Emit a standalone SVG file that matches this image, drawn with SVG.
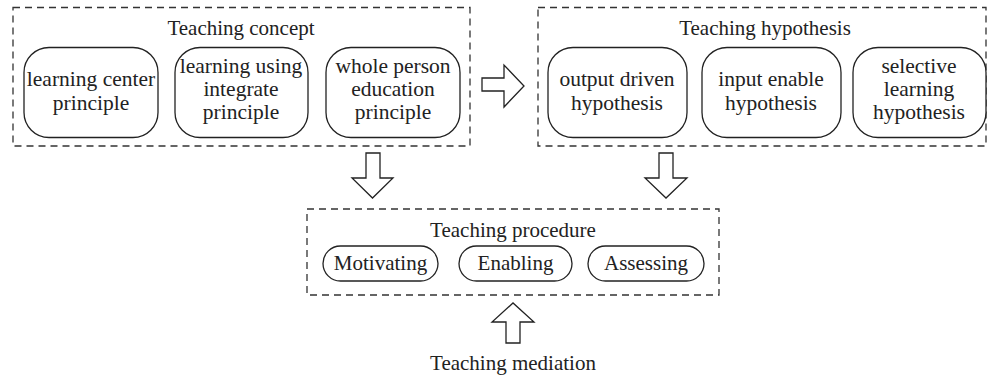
<svg xmlns="http://www.w3.org/2000/svg" width="987" height="379" viewBox="0 0 987 379">
<style>
.grp{fill:none;stroke:#333;stroke-width:1.3;stroke-dasharray:7,5}
.nd{fill:#fff;stroke:#222;stroke-width:1.3}
.ar{fill:#fff;stroke:#222;stroke-width:1.3;stroke-linejoin:miter}
text{font-family:"Liberation Serif","Times New Roman",serif;font-size:21px;fill:#222;text-anchor:middle}
.nt{font-size:21.5px}
</style>
<rect width="987" height="379" fill="#fff"/>
<g id="teaching-concept">
<rect class="grp" x="13" y="7.5" width="457" height="138.5"/>
<text x="241" y="35">Teaching concept</text>
</g>
<g id="learning-center">
<rect class="nd" x="24" y="47.5" width="134" height="90" rx="25"/>
<text class="nt" x="91" y="86">learning center</text>
<text class="nt" x="91" y="110">principle</text>
</g>
<g id="learning-using">
<rect class="nd" x="175" y="47.5" width="133" height="90" rx="25"/>
<text class="nt" x="241" y="73">learning using</text>
<text class="nt" x="241" y="96">integrate</text>
<text class="nt" x="241" y="119">principle</text>
</g>
<g id="whole-person">
<rect class="nd" x="326" y="47.5" width="134" height="90" rx="25"/>
<text class="nt" x="393" y="73">whole person</text>
<text class="nt" x="393" y="96">education</text>
<text class="nt" x="393" y="119">principle</text>
</g>
<g id="teaching-hypothesis">
<rect class="grp" x="538" y="7.5" width="448" height="138.5"/>
<text x="765" y="35">Teaching hypothesis</text>
</g>
<g id="output-driven">
<rect class="nd" x="548" y="47.5" width="139" height="90" rx="25"/>
<text class="nt" x="617" y="86">output driven</text>
<text class="nt" x="617" y="110">hypothesis</text>
</g>
<g id="input-enable">
<rect class="nd" x="702" y="47.5" width="139" height="90" rx="25"/>
<text class="nt" x="771" y="86">input enable</text>
<text class="nt" x="771" y="110">hypothesis</text>
</g>
<g id="selective-learning">
<rect class="nd" x="853" y="47.5" width="133" height="90" rx="25"/>
<text class="nt" x="919" y="73">selective</text>
<text class="nt" x="919" y="96">learning</text>
<text class="nt" x="919" y="119">hypothesis</text>
</g>
<g id="teaching-procedure">
<rect class="grp" x="307" y="209" width="412" height="86"/>
<text x="513" y="237">Teaching procedure</text>
</g>
<g id="motivating">
<rect class="nd" x="323" y="246" width="115" height="35" rx="17.5"/>
<text x="380.5" y="270">Motivating</text>
</g>
<g id="enabling">
<rect class="nd" x="459" y="246" width="113" height="35" rx="17.5"/>
<text x="515.5" y="270">Enabling</text>
</g>
<g id="assessing">
<rect class="nd" x="588" y="246" width="116" height="35" rx="17.5"/>
<text x="646" y="270">Assessing</text>
</g>
<g id="teaching-mediation">
<text x="513" y="370">Teaching mediation</text>
</g>
<g id="connectors">
<polygon class="ar" points="482,78 504,78 504,65 524,86 504,107 504,91 482,91"/>
<polygon class="ar" points="366,153 380,153 380,178 393,178 372.5,198 352,178 366,178"/>
<polygon class="ar" points="659,153 673,153 673,178 687,178 666,198 645,178 659,178"/>
<polygon class="ar" points="506,343 520,343 520,322 534,322 513,303 492,322 506,322"/>
</g>
</svg>
